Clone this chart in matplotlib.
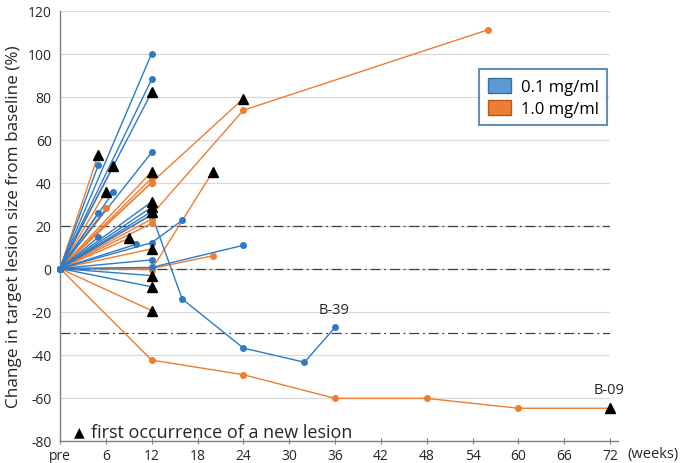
import matplotlib
matplotlib.use("Agg")
import matplotlib.pyplot as plt
from matplotlib.patches import Patch

plt.rcParams['font.family'] = ['Open Sans', 'DejaVu Sans']

# ---- data (weeks, % change); last point flagged when a new lesion first occurred ----
blue_weeks = [
    [0, 12], [0, 12], [0, 12], [0, 12], [0, 5], [0, 7], [0, 5],
    [0, 12, 16, 24, 32, 36],
    [0, 5], [0, 12, 16], [0, 10], [0, 12, 24], [0, 12], [0, 12], [0, 12],
    [0, 12], [0, 12], [0, 12],
]
blue_values = [
    [0, 100], [0, 88], [0, 82], [0, 54], [0, 48], [0, 35.7], [0, 25.7],
    [0, 25, -14.2, -37, -43.6, -27.4],
    [0, 14.5], [0, 12, 22.4], [0, 11.3], [0, 0.5, 10.8], [0, 4], [0, -3.3], [0, -8.5],
    [0, 31], [0, 28.5], [0, 26.5],
]
blue_new_lesion = [False, False, True, False, False, False, False,
                   False,
                   False, False, False, False, False, True, True,
                   True, True, True]

orange_weeks = [
    [0, 12, 24], [0, 12, 24, 56], [0, 12, 20], [0, 12, 20],
    [0, 12, 24, 36, 48, 60, 72],
    [0, 12], [0, 5], [0, 7], [0, 6], [0, 6], [0, 9], [0, 12], [0, 12],
    [0, 12], [0, 12], [0, 12], [0, 12],
]
orange_values = [
    [0, 40, 79], [0, 25, 73.6, 111], [0, 0, 5.9], [0, -0.5, 45],
    [0, -42.6, -49.4, -60.4, -60.4, -65, -65],
    [0, -19.6], [0, 52.8], [0, 47.8], [0, 35.7], [0, 28.1], [0, 14], [0, 42], [0, 45],
    [0, 23], [0, 9.1], [0, 21], [0, 40],
]
orange_new_lesion = [True, False, False, True,
                     True,
                     True, True, True, True, False, True, False, True,
                     False, True, False, False]

x_ticks = [0, 6, 12, 18, 24, 30, 36, 42, 48, 54, 60, 66, 72]
x_ticklabels = ["pre", "6", "12", "18", "24", "30", "36", "42", "48", "54", "60", "66", "72"]
y_ticks = [-80, -60, -40, -20, 0, 20, 40, 60, 80, 100, 120]
ref_lines = [20, 0, -30]
labels_patients = [("B-39", 36, -27.4), ("B-09", 72, -65)]
dose_labels = ["0.1 mg/ml", "1.0 mg/ml"]

BLUE = "#2E7BC4"
ORANGE = "#ED7D31"

fig = plt.figure(figsize=(6.8, 4.64), dpi=100)
ax = fig.add_axes([60/680, 1-441.5/464, 550/680, 430/464])
ax.set_xlim(0, 72)
ax.set_ylim(-80, 120)

for y in y_ticks:
    ax.axhline(y, color="#D9D9D9", lw=0.9, zorder=0)
for y in ref_lines:
    ax.axhline(y, color="#404040", lw=0.9, dashes=(8, 3, 1.5, 3), zorder=1)

def draw(weeks_list, values_list, flags, color):
    for w, v, f in zip(weeks_list, values_list, flags):
        ax.plot(w, v, color=color, lw=1.0, zorder=2, clip_on=False)
        if f:
            ax.plot(w[:-1], v[:-1], 'o', color=color, ms=4, zorder=3, clip_on=False)
            ax.plot(w[-1], v[-1], '^', color='black', ms=7.5, zorder=5, clip_on=False)
        else:
            ax.plot(w, v, 'o', color=color, ms=4, zorder=3, clip_on=False)

draw(orange_weeks, orange_values, orange_new_lesion, ORANGE)
draw(blue_weeks, blue_values, blue_new_lesion, BLUE)
ax.plot([0], [0], 'o', color=BLUE, ms=4, zorder=4)

for name, wk, val in labels_patients:
    ax.text(wk - 0.1, val + 8.5, name, ha="center", va="center",
            fontsize=10.5, color="#262626")

ax.set_xticks(x_ticks)
ax.set_xticklabels(x_ticklabels, fontsize=10, color="#262626")
ax.set_yticks(y_ticks)
ax.set_yticklabels([str(t) for t in y_ticks], fontsize=10, color="#262626")
ax.tick_params(axis='x', direction='inout', length=5, color="#808080", pad=3)
ax.tick_params(axis='y', length=0, pad=6)
for s in ["top", "right"]:
    ax.spines[s].set_visible(False)
for s in ["left", "bottom"]:
    ax.spines[s].set_color("#808080")
    ax.spines[s].set_linewidth(1.0)
ax.spines["bottom"].set_bounds(0, 73)

ax.set_ylabel("Change in target lesion size from baseline (%)", fontsize=12.3, color="#262626", labelpad=4)
fig.text(627/680, 1-455/464, "(weeks)", fontsize=10.5, color="#262626", va="center", ha="left")

ax.text(2.5, -76, "\u25B2", fontsize=10, va="center", ha="center", color="black")
ax.text(4.0, -76, "first occurrence of a new lesion", fontsize=13, va="center", ha="left", color="#262626")

handles = [Patch(facecolor="#5B9BD5", edgecolor="#41719C", lw=1),
           Patch(facecolor="#ED7D31", edgecolor="#AE5A21", lw=1)]
leg = ax.legend(handles, dose_labels, loc="upper left", fontsize=12, frameon=True, fancybox=False,
                handlelength=1.4, handleheight=1.0, borderpad=0.5, labelspacing=0.3, handletextpad=0.6)
leg.set_bbox_to_anchor((471/680, 1 - 62/464), transform=fig.transFigure)
leg.get_frame().set_edgecolor("#41719C")
leg.get_frame().set_linewidth(1.5)

fig.savefig("out.png", dpi=100)
